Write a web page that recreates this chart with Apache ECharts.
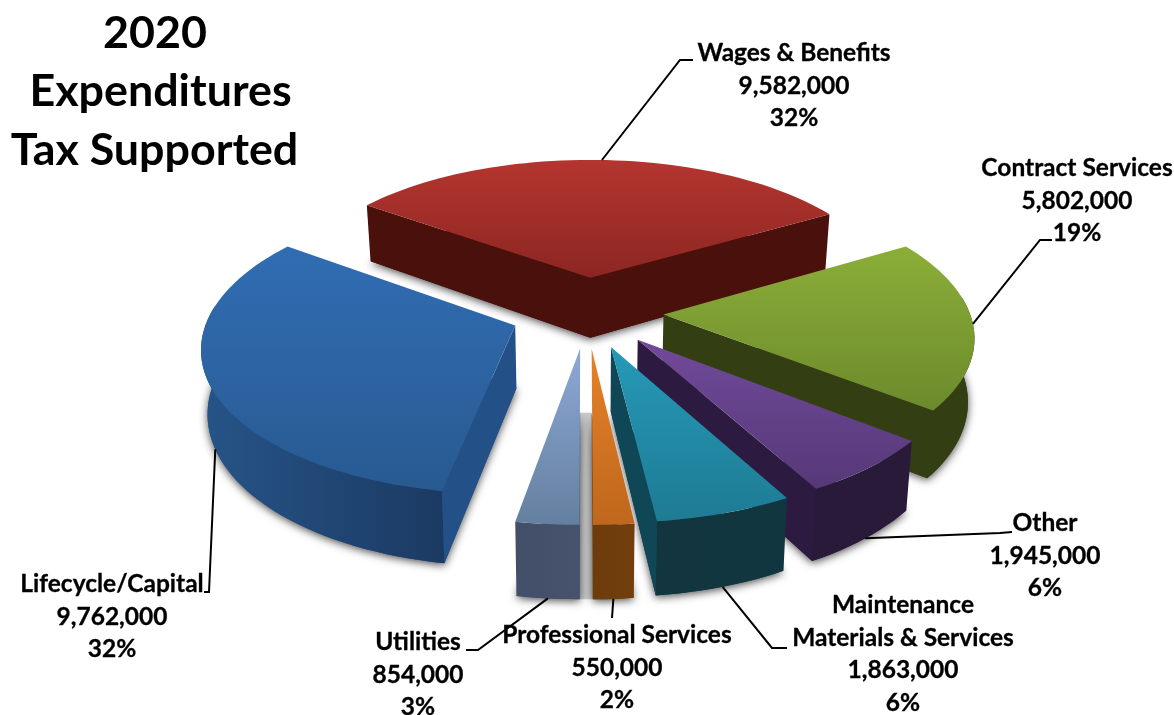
<!DOCTYPE html>
<html><head><meta charset="utf-8">
<style>html,body{margin:0;padding:0;background:#fff;overflow:hidden}#c{width:1174px;height:715px}</style>
<script src="https://cdn.jsdelivr.net/npm/echarts@6/dist/echarts.min.js"></script>
</head><body><div id="c"></div>
<script>
// ---- data ----
const titleLines = ['2020','Expenditures','Tax Supported'];
const categories = ['Wages & Benefits','Contract Services','Other','Maintenance\nMaterials & Services','Professional Services','Utilities','Lifecycle/Capital'];
const expenditures = [9582000,5802000,1945000,1863000,550000,854000,9762000];

// ---- styles and layout ----
const topColors  = [['#b5352f','#8c2622'],['#8bae38','#6c8a2c'],['#714a9a','#563878'],['#2699b8','#1e7b94'],['#e5822a','#bf671c'],['#8ea8d6','#64809f'],['#316db3','#285a91']];
const wallColors = [['#4a0f0b','#561512'],['#333f12','#333f12'],['#291a3a','#2a1a3a'],['#12353f','#12363f'],['#6e3c0c','#713e0c'],['#434f69','#47536d'],['#265488','#1b3a62']];
const sideColors = ['#4a100c','#333f12','#2c1a40','#0f4757','#6e3c0c','#434f69','#245088'];
const drawOrder = [0,1,6,2,3,5,4];
const CX=587, CY=312, RX=306, KY=142, DIST=7.5, EXPLODE=0.25, DEPTH=62, SHRINK=0.983, START=-54.2;
const titleCenters = [150,155.5,149.5];
const labelCenters = [[794,53],[1077,168],[1045,523],[903,605],[617,635],[418,642],[112,584]];
const leaderElbows = [[[680,60],[693,60]],[[1040,240],[1052,240]],[[1000,533],[1012,532]],[[772,648],[787,648]],[[612,618]],[[478,650],[466,650]],[[209,592],[204,592]]];
const leaderOnTop = [true,true,false,false,false,false,false];
const LINE_H = 32.7;
const FONT = '"Lato","Liberation Sans",sans-serif';

const total = expenditures.reduce((a,b)=>a+b,0);
const rad = d=>d*Math.PI/180;
const spans = []; { let a=START; expenditures.forEach(v=>{const s=v/total*360; spans.push([a,a+s]); a+=s;}); }

function project(u,v,low){
  const s = DIST/(DIST-v);
  const f = low?SHRINK:1;
  return [CX+u*s*RX*f, CY+v*s*KY+(low?DEPTH*s:0)];
}
function planePoint(i,a,r){
  const m = rad((spans[i][0]+spans[i][1])/2);
  return [EXPLODE*Math.sin(m)+r*Math.sin(rad(a)), -EXPLODE*Math.cos(m)-r*Math.cos(rad(a))];
}
function vgrad(c){return new echarts.graphic.LinearGradient(0,0,0,1,[{offset:0,color:c[0]},{offset:1,color:c[1]}]);}
function hgrad(c){return new echarts.graphic.LinearGradient(0,0,1,0,[{offset:0,color:c[0]},{offset:1,color:c[1]}]);}

function renderSlice(params,api){
  const i = api.value(0);
  const [a0,a1] = spans[i];
  const arc=[]; const n=Math.max(6,Math.ceil((a1-a0)/2));
  for(let k=0;k<=n;k++) arc.push(planePoint(i,a0+(a1-a0)*k/n,1));
  const apex = planePoint(i,0,0);
  const P=(p,low)=>project(p[0],p[1],low);
  const topArc=arc.map(p=>P(p,false)), lowArc=arc.map(p=>P(p,true));
  const children=[];
  if(i===5){ // soft shadow filling the narrow gap next to the Professional Services slice
    const b=spans[4][1];
    children.push({type:'polygon',shape:{points:[P(planePoint(4,b,0),true),P(planePoint(4,b,1),true),P(planePoint(5,a0,1),true),P(planePoint(5,a0,0),true)]},
      style:{fill:'#cbcbcb'}});
  }
  children.push({type:'polygon',shape:{points:[P(apex,true)].concat(lowArc)},
    style:{fill:sideColors[i],shadowBlur:9,shadowColor:'rgba(0,0,0,0.7)',shadowOffsetY:2}});
  const vis=[]; arc.forEach((p,k)=>{ if(k<arc.length-1){ const am=a0+(a1-a0)*(k+.5)/n; if(Math.cos(rad(am))<0.12) vis.push(k);} });
  if(vis.length){
    const idx=[vis[0]]; vis.forEach(k=>idx.push(k+1));
    const poly=idx.map(k=>topArc[k]).concat(idx.slice().reverse().map(k=>lowArc[k]));
    children.push({type:'polygon',shape:{points:poly},style:{fill:hgrad(wallColors[i])}});
  }
  [[a0,arc[0],-1],[a1,arc[arc.length-1],1]].forEach(([a,rim,dir])=>{
    const nu=dir*Math.cos(rad(a)), nv=dir*Math.sin(rad(a));
    if((0-apex[0])*nu+(DIST-apex[1])*nv>0.05){
      children.push({type:'polygon',shape:{points:[P(apex,false),P(rim,false),P(rim,true),P(apex,true)]},
        style:{fill:sideColors[i]}});
    }
  });
  children.push({type:'polygon',shape:{points:[P(apex,false)].concat(topArc)},style:{fill:vgrad(topColors[i])}});
  return {type:'group',children};
}

function renderLabel(params,api){
  const i=api.value(0), value=api.value(1);
  const mid=(spans[i][0]+spans[i][1])/2;
  const rim=planePoint(i,mid,1);
  const pts=[project(rim[0],rim[1],!leaderOnTop[i])].concat(leaderElbows[i]);
  const lines=categories[i].split('\n').concat([value.toLocaleString('en-US'),Math.round(value/total*100)+'%']);
  const children=[{type:'polyline',shape:{points:pts},style:{fill:null,stroke:'#000',lineWidth:2}}];
  lines.forEach((t,k)=>children.push({type:'text',style:{
    text:t,x:labelCenters[i][0],y:labelCenters[i][1]+k*LINE_H,
    align:'center',verticalAlign:'middle',fill:'#000',stroke:'#000',lineWidth:0.3,font:'bold 24.5px '+FONT}}));
  return {type:'group',children};
}

const chart=echarts.init(document.getElementById('c'),null,{renderer:'canvas'});
chart.setOption({
  animation:false,backgroundColor:'#fff',
  title:titleLines.map((t,k)=>({text:t,left:titleCenters[k],top:6+k*58.5,textAlign:'center',
    textStyle:{fontFamily:FONT,fontWeight:'bold',fontSize:44.8,color:'#000'}})),
  series:[
    {type:'custom',coordinateSystem:'none',renderItem:renderSlice,silent:true,z:2,
      data:drawOrder.map(i=>[i,expenditures[i]])},
    {type:'custom',coordinateSystem:'none',renderItem:renderLabel,silent:true,z:3,
      data:categories.map((c,i)=>[i,expenditures[i]])}
  ]
});
</script></body></html>
